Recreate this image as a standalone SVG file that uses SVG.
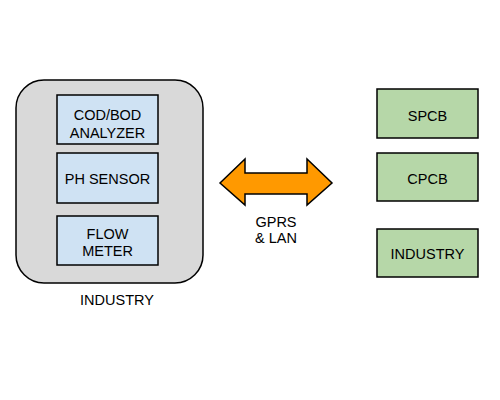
<svg xmlns="http://www.w3.org/2000/svg" width="500" height="400" viewBox="0 0 500 400">
<style>
text{font-family:"Liberation Sans",Arial,sans-serif;font-size:14.5px;fill:#000;text-anchor:middle}
.blue{fill:#cfe2f3;stroke:#000;stroke-width:1.5}
.green{fill:#b6d7a8;stroke:#000;stroke-width:1.5}
</style>
<rect width="500" height="400" fill="#fff"/>
<g id="industry-group">
<rect x="16" y="80" width="187" height="203" rx="28" ry="28" fill="#d9d9d9" stroke="#000" stroke-width="1.5"/>
<text x="117" y="305">INDUSTRY</text>
</g>
<g id="codbod">
<rect class="blue" x="57" y="95" width="101" height="49"/>
<text x="107.5" y="120">COD/BOD</text>
<text x="107.5" y="138">ANALYZER</text>
</g>
<g id="ph">
<rect class="blue" x="57" y="153" width="101" height="50"/>
<text x="107.5" y="183.5">PH SENSOR</text>
</g>
<g id="flow">
<rect class="blue" x="57" y="216" width="101" height="49"/>
<text x="107.5" y="239">FLOW</text>
<text x="107.5" y="256">METER</text>
</g>
<g id="spcb">
<rect class="green" x="377" y="89" width="101" height="49"/>
<text x="427.5" y="121">SPCB</text>
</g>
<g id="cpcb">
<rect class="green" x="377" y="153" width="101" height="48"/>
<text x="427.5" y="184">CPCB</text>
</g>
<g id="industry-right">
<rect class="green" x="377" y="229" width="101" height="48"/>
<text x="427.5" y="259">INDUSTRY</text>
</g>
<g id="connectors">
<path d="M220,183 L245,159 L245,173 L307,173 L307,159 L332,183 L307,205 L307,194 L245,194 L245,205 Z" fill="#ff9900" stroke="#000" stroke-width="1.5" stroke-linejoin="miter"/>
<text x="276" y="227">GPRS</text>
<text x="276" y="243">&amp; LAN</text>
</g>
</svg>
